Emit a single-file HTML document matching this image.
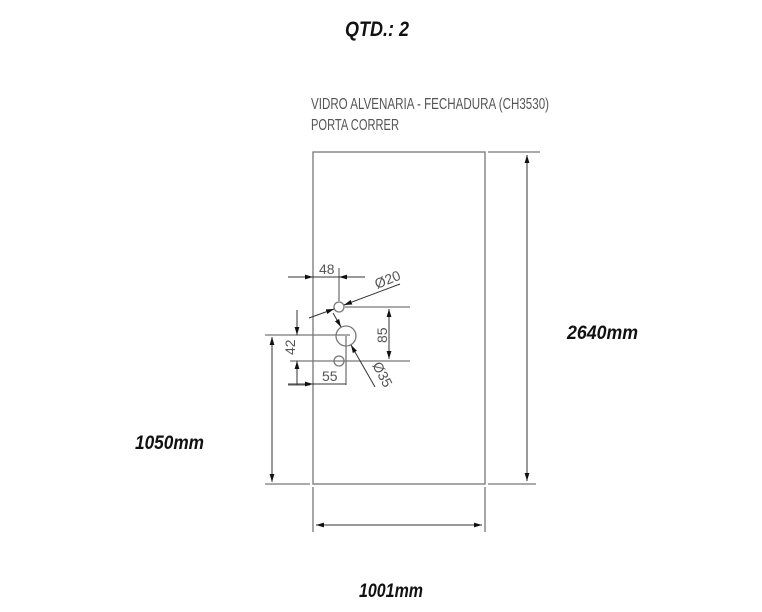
<!DOCTYPE html>
<html><head><meta charset="utf-8"><style>
html,body{margin:0;padding:0;background:#fff;}
svg{display:block}
.b{font-family:"Liberation Sans Narrow","Liberation Sans",sans-serif;font-weight:bold;font-style:italic;fill:#111;}
.t{font-family:"Liberation Sans Narrow","Liberation Sans",sans-serif;fill:#555;}
</style></head><body>
<svg width="762" height="612" viewBox="0 0 762 612" xmlns="http://www.w3.org/2000/svg">
<defs><marker id="a" viewBox="0 0 10 6" refX="10" refY="3" markerWidth="8" markerHeight="5" orient="auto-start-reverse" markerUnits="userSpaceOnUse"><path d="M0,0 L10,3 L0,6z" fill="#111"/></marker></defs>
<text class="b" x="377" y="36" font-size="21" text-anchor="middle" textLength="64" lengthAdjust="spacingAndGlyphs">QTD.: 2</text>
<text class="t" x="311" y="109" font-size="16" textLength="238" lengthAdjust="spacingAndGlyphs">VIDRO ALVENARIA - FECHADURA (CH3530)</text>
<text class="t" x="311" y="130" font-size="16" textLength="88" lengthAdjust="spacingAndGlyphs">PORTA CORRER</text>
<g stroke="#777" stroke-width="1.3" fill="none">
<rect x="313" y="152" width="172" height="332"/>
<line x1="488" y1="152" x2="540" y2="152"/>
<line x1="488" y1="484" x2="536" y2="484"/>
<line x1="265" y1="484" x2="310" y2="484"/>
<line x1="313" y1="487" x2="313" y2="532"/>
<line x1="485" y1="487" x2="485" y2="532"/>
<circle cx="339" cy="307" r="5"/>
<circle cx="346" cy="336" r="10"/>
<circle cx="339" cy="361" r="5"/>
<line x1="339" y1="268" x2="339" y2="301"/>
<line x1="345" y1="307" x2="410" y2="307"/>
<line x1="290" y1="361" x2="410" y2="361"/>
<line x1="265" y1="335" x2="350" y2="335"/>
<line x1="288" y1="385" x2="310" y2="385"/>
<line x1="346" y1="336" x2="346" y2="385"/>
</g>
<g stroke="#333" stroke-width="1" fill="none">
<line x1="527" y1="155" x2="527" y2="481" marker-start="url(#a)" marker-end="url(#a)"/>
<line x1="316" y1="525" x2="482" y2="525" marker-start="url(#a)" marker-end="url(#a)"/>
<line x1="272" y1="337" x2="272" y2="482" marker-start="url(#a)" marker-end="url(#a)"/>
<line x1="389" y1="309" x2="389" y2="359" marker-start="url(#a)" marker-end="url(#a)"/>
<line x1="288" y1="277" x2="313" y2="277" marker-end="url(#a)"/>
<line x1="365" y1="277" x2="339" y2="277" marker-end="url(#a)"/>
<line x1="313" y1="277" x2="339" y2="277"/>
<line x1="297" y1="310" x2="297" y2="335" marker-end="url(#a)"/>
<line x1="297" y1="385" x2="297" y2="361" marker-end="url(#a)"/>
<line x1="288" y1="384" x2="313" y2="384" marker-end="url(#a)"/>
<line x1="313" y1="384" x2="346" y2="384"/>
<line x1="309" y1="318" x2="334" y2="309" marker-end="url(#a)"/>
<line x1="400" y1="284" x2="344" y2="305" marker-end="url(#a)"/>
<line x1="375" y1="387" x2="351" y2="345" marker-end="url(#a)"/>
<line x1="333" y1="313" x2="341" y2="327" marker-end="url(#a)"/>
</g>
<g class="t" font-size="14" fill="#333">
<text x="319" y="274">48</text>
<text x="322" y="381">55</text>
<text transform="translate(295,355) rotate(-90)">42</text>
<text transform="translate(387,343) rotate(-90)">85</text>
<text transform="translate(377,289) rotate(-22)">Ø20</text>
<text transform="translate(372,365) rotate(62)">Ø35</text>
</g>
<text class="b" x="567" y="339" font-size="19" textLength="71" lengthAdjust="spacingAndGlyphs">2640mm</text>
<text class="b" x="135" y="449" font-size="19" textLength="69" lengthAdjust="spacingAndGlyphs">1050mm</text>
<text class="b" x="359" y="597" font-size="19" textLength="64" lengthAdjust="spacingAndGlyphs">1001mm</text>
</svg>
</body></html>
